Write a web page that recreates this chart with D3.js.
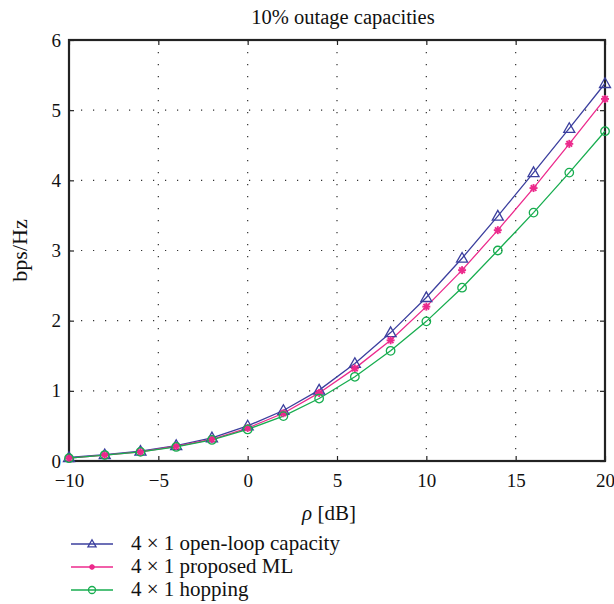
<!DOCTYPE html>
<html><head><meta charset="utf-8">
<script src="https://cdn.jsdelivr.net/npm/d3@7"></script>
<style>body{margin:0;background:#fff}svg{display:block}text{font-family:"Liberation Serif","DejaVu Serif",serif;fill:#111}</style>
</head><body><svg id="c" width="614" height="604"></svg>
<script>
const xValues = [-10,-8,-6,-4,-2,0,2,4,6,8,10,12,14,16,18,20];
const openLoop = [0.05,0.09,0.14,0.22,0.33,0.50,0.72,1.01,1.39,1.83,2.33,2.89,3.49,4.11,4.74,5.38];
const proposedML = [0.04,0.085,0.13,0.21,0.31,0.47,0.68,0.97,1.32,1.72,2.20,2.72,3.29,3.89,4.52,5.16];
const hopping = [0.04,0.085,0.13,0.20,0.30,0.45,0.64,0.89,1.20,1.57,1.99,2.47,3.00,3.54,4.11,4.70];
const xTicks = [-10,-5,0,5,10,15,20];
const yTicks = [0,1,2,3,4,5,6];
const seriesNames = ["4 \u00d7 1 open-loop capacity","4 \u00d7 1 proposed ML","4 \u00d7 1 hopping"];
const seriesColors = ["#3b3f9e","#ec2a8c","#17ad4f"];
const seriesMarkers = ["triangle","star","circle"];
const titleText = "10% outage capacities";

const svg = d3.select("#c");
const L=69,R=605,T=40,B=461;
const x = d3.scaleLinear().domain([-10,20]).range([L,R]);
const y = d3.scaleLinear().domain([0,6]).range([B,T]);

const g = svg.append("g");
xTicks.slice(1,-1).forEach(v=>g.append("line").attr("x1",x(v)).attr("x2",x(v)).attr("y1",T).attr("y2",B)
  .attr("stroke","#333").attr("stroke-width",1.2).attr("stroke-dasharray","1.2,10.8"));
yTicks.slice(1,-1).forEach(v=>g.append("line").attr("x1",L).attr("x2",R).attr("y1",y(v)).attr("y2",y(v))
  .attr("stroke","#333").attr("stroke-width",1.2).attr("stroke-dasharray","1.2,10.8"));

const ax = svg.append("g");
const axB = ax.append("g").attr("transform",`translate(0,${B})`).call(d3.axisBottom(x).tickValues(xTicks).tickSize(-5).tickPadding(13).tickFormat(d=>d<0?"\u2212"+(-d):d));
const axL = ax.append("g").attr("transform",`translate(${L},0)`).call(d3.axisLeft(y).tickValues(yTicks).tickSize(-5).tickPadding(8).tickFormat(d3.format("d")));
const axT = ax.append("g").attr("transform",`translate(0,${T})`).call(d3.axisTop(x).tickValues(xTicks).tickSize(-5).tickFormat(""));
const axR = ax.append("g").attr("transform",`translate(${R},0)`).call(d3.axisRight(y).tickValues(yTicks).tickSize(-5).tickFormat(""));
[axB,axL,axT,axR].forEach(a=>{a.select(".domain").remove();a.attr("font-family",null);a.selectAll("line").attr("stroke","#222").attr("stroke-width",1.2);});
ax.selectAll("text").style("font-size","19px").attr("fill","#111");
ax.append("rect").attr("x",L).attr("y",T).attr("width",R-L).attr("height",B-T).attr("fill","none").attr("stroke","#222").attr("stroke-width",2.2);

function drawMarker(sel,type,color,size){
  if(type==="triangle"){
    const s=size;
    sel.append("path").attr("d",`M0,${-s*0.6}L${s*0.58},${s*0.42}L${-s*0.58},${s*0.42}Z`).attr("fill","none").attr("stroke",color).attr("stroke-width",1.3);
  } else if(type==="circle"){
    sel.append("circle").attr("r",size*0.5).attr("fill","none").attr("stroke",color).attr("stroke-width",1.3);
  } else {
    const r=size*0.5;
    for(let k=0;k<4;k++){const a=k*Math.PI/4;
      sel.append("line").attr("x1",-r*Math.cos(a)).attr("y1",-r*Math.sin(a)).attr("x2",r*Math.cos(a)).attr("y2",r*Math.sin(a)).attr("stroke",color).attr("stroke-width",1.9);}
  }
}

const data=[openLoop,proposedML,hopping];
const line=d3.line().x((d,i)=>x(xValues[i])).y(d=>y(d));
data.forEach((vals,si)=>{
  svg.append("path").datum(vals).attr("d",line).attr("fill","none").attr("stroke",seriesColors[si]).attr("stroke-width",1.3);
});
data.forEach((vals,si)=>{
  vals.forEach((v,i)=>{
    const m=svg.append("g").attr("transform",`translate(${x(xValues[i])},${y(v)})`);
    drawMarker(m,seriesMarkers[si],seriesColors[si],si===1?8:(si===0?9.5:8.5));
  });
});

svg.append("text").attr("x",343).attr("y",24).attr("text-anchor","middle").style("font-size","20.5px").text(titleText);
svg.append("text").attr("transform",`translate(27,${(T+B)/2}) rotate(-90)`).attr("text-anchor","middle").style("font-size","22px").text("bps/Hz");
const xl=svg.append("text").attr("x",329).attr("y",520).attr("text-anchor","middle").style("font-size","21px");
xl.append("tspan").style("font-style","italic").text("\u03c1");
xl.append("tspan").text(" [dB]");

const legY=[544,567,590];
seriesNames.forEach((n,i)=>{
  const lg=svg.append("g");
  lg.append("line").attr("x1",71).attr("x2",113).attr("y1",legY[i]).attr("y2",legY[i]).attr("stroke",seriesColors[i]).attr("stroke-width",1.3);
  const m=lg.append("g").attr("transform",`translate(92,${legY[i]})`);
  drawMarker(m,seriesMarkers[i],seriesColors[i],i===1?5.5:7);
  lg.append("text").attr("x",131).attr("y",legY[i]).attr("dy","0.3em").style("font-size","21px").text(n);
});
</script></body></html>
